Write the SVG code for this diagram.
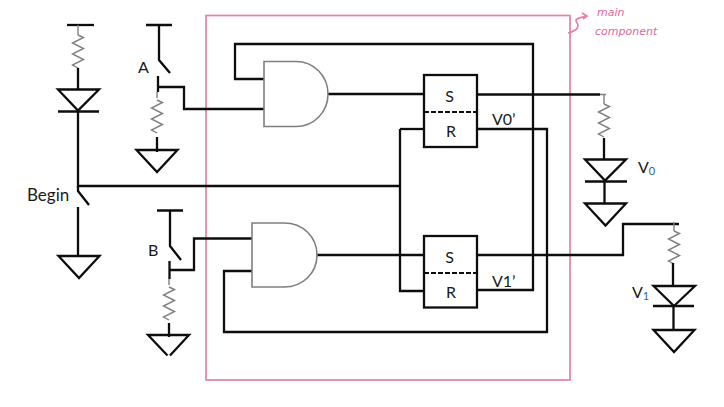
<svg xmlns="http://www.w3.org/2000/svg" width="724" height="407" viewBox="0 0 724 407">
<style>
.w{fill:none;stroke:#0d0d0d;stroke-width:2.3;stroke-linejoin:miter}
.g{fill:none;stroke:#7f7f7f;stroke-width:1.4}
.gate{fill:#fff;stroke:#7f7f7f;stroke-width:1.6}
.box{fill:#fff;stroke:#0d0d0d;stroke-width:2.3}
.d{fill:none;stroke:#0d0d0d;stroke-width:2.2;stroke-dasharray:5 2}
.p{fill:none;stroke:#e77fa8;stroke-width:1.7}
text{font-family:"Lato","Open Sans","Liberation Sans",sans-serif;font-size:16px;fill:#1a1a1a}
.h{font-family:"DejaVu Sans",sans-serif;font-size:11px;font-style:italic;fill:#e0679a}
.s{font-size:11px}
</style>
<defs>
<path id="res" class="g" d="M0 0L5.500 2.500L-5.500 8L5.500 13.500L-5.500 19L5.500 24.500L-5.500 30L0 33"/>
<path id="tri" class="w" d="M-20.500 0H20.500L0 22Z"/>
</defs>
<rect id="main-component" class="p" x="206" y="15.500" width="364" height="364.500"/>
<g id="connectors">
<path class="w" d="M78 111V186H400"/>
<path class="w" d="M400 129V291H424"/>
<path class="w" d="M424 129H400"/>
<path class="w" d="M78 186V191L89 205"/>
<path class="w" d="M78 207V256"/>
<path class="w" d="M158 87H184V109H264"/>
<path class="w" d="M170 270H194V238.500H252"/>
<path class="w" d="M328 94H424"/>
<path class="w" d="M317 255H424"/>
<path class="w" d="M477 94.500H600"/>
<path class="w" d="M477 255H623V224H679"/>
<path class="w" d="M477 129H547V332H224V271H252"/>
<path class="w" d="M477 290H533V44H235V79H264"/>
</g>
<g id="begin-supply">
<path class="w" d="M67 25H94"/>
<path class="g" d="M78 25V35"/>
<use href="#res" x="78" y="35"/>
<path class="w" d="M78 68V89"/>
<path class="w" d="M58 89.500H99L78 110.500Z"/>
<path class="w" d="M58 111.500H99"/>
</g>
<g id="begin-ground"><use href="#tri" x="79" y="256"/></g>
<text id="label-begin" x="27" y="201" style="font-size:17px">Begin</text>
<g id="switch-a">
<path class="w" d="M146 25H172M159 25V60L170 73"/>
<path class="w" d="M158 76V92"/>
<path class="g" d="M157 92V98"/>
<use href="#res" x="157" y="100"/>
<path class="w" d="M157 137V152"/>
<use href="#tri" x="157" y="150"/>
<text x="138" y="73">A</text>
</g>
<g id="switch-b">
<path class="w" d="M157 210.500H183M170 210.500V246L181 260"/>
<path class="w" d="M169.500 261V279"/>
<path class="g" d="M169 279V285"/>
<use href="#res" x="169" y="287"/>
<path class="w" d="M169 323V337"/>
<path class="w" d="M167.500 355.500L148 335H189L170 355.500"/>
<text x="148" y="256">B</text>
</g>
<g id="and-gate-top"><path class="gate" d="M264 61.500H296C314 61.500 328 76 328 94C328 112 314 126.500 296 126.500H264Z"/></g>
<g id="and-gate-bottom"><path class="gate" d="M252 223H284C303 223 317 237 317 255C317 273 303 287 284 287H252Z"/></g>
<g id="latch-top">
<rect class="box" x="424" y="75" width="53" height="72"/>
<path class="d" d="M424 112H477"/>
<text x="449.500" y="102" text-anchor="middle">S</text>
<text x="451" y="137" text-anchor="middle">R</text>
<text x="492" y="125">V0’</text>
</g>
<g id="latch-bottom">
<rect class="box" x="424" y="236" width="53" height="71.500"/>
<path class="d" d="M424 273H477"/>
<text x="449.500" y="263" text-anchor="middle">S</text>
<text x="451" y="298" text-anchor="middle">R</text>
<text x="492" y="287">V1’</text>
</g>
<g id="output-v0">
<path class="g" d="M600 94.500H606M604 95V104"/>
<use href="#res" x="604" y="104"/>
<path class="w" d="M604 138V159"/>
<path class="w" d="M585 159.500H626L605 180.500Z"/>
<path class="w" d="M585 181.500H627M604.500 181.500V203"/>
<use href="#tri" x="605.500" y="203.500"/>
<text x="638" y="173">V<tspan class="s" dy="2" fill="#2f5f8f">0</tspan></text>
</g>
<g id="output-v1">
<path class="g" d="M674 222V231"/>
<use href="#res" x="674" y="231"/>
<path class="w" d="M673 263V285"/>
<path class="w" d="M653.500 286H695L674 306Z"/>
<path class="w" d="M653 306H694M673.500 306V330"/>
<use href="#tri" x="674" y="330"/>
<text x="632" y="298">V<tspan class="s" dy="2" fill="#2f5f8f">1</tspan></text>
</g>
<g id="annotation">
<path class="p" d="M568 33C573 32 578 29 578 26C578 22 574 21 577 19C580 17 584 17 587 16M582 13L587 16L583 19"/>
<text class="h" x="597" y="16">main</text>
<text class="h" x="595" y="35">component</text>
</g>
</svg>
